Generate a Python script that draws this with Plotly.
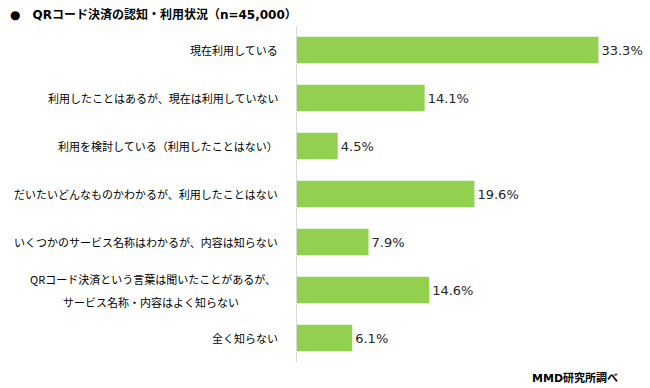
import plotly.graph_objects as go

categories = [
    "現在利用している",
    "利用したことはあるが、現在は利用していない",
    "利用を検討している（利用したことはない）",
    "だいたいどんなものかわかるが、利用したことはない",
    "いくつかのサービス名称はわかるが、内容は知らない",
    "QRコード決済という言葉は聞いたことがあるが、\nサービス名称・内容はよく知らない",
    "全く知らない",
]
values = [33.3, 14.1, 4.5, 19.6, 7.9, 14.6, 6.1]
value_labels = ["33.3%", "14.1%", "4.5%", "19.6%", "7.9%", "14.6%", "6.1%"]

JP = "Noto Sans CJK JP, sans-serif"
NUM = "DejaVu Sans, Noto Sans CJK JP, sans-serif"

fig = go.Figure(go.Bar(
    x=values, y=categories, orientation="h",
    marker=dict(color="#92d050", line=dict(width=0)),
    text=value_labels, textposition="outside",
    textfont=dict(family=NUM, size=13, color="#262626"),
    cliponaxis=False, width=0.55,
))

annotations = []
for c in categories:
    lines = c.split("\n")
    if len(lines) == 1:
        annotations.append(dict(
            x=0, xref="paper", y=c, yref="y", text=c, showarrow=False,
            xanchor="right", yanchor="middle", xshift=-17,
            font=dict(family=JP, size=11, color="#000000"),
        ))
    else:
        annotations.append(dict(
            x=0, xref="paper", y=c, yref="y", text=lines[0], showarrow=False,
            xanchor="right", yanchor="middle", xshift=-19, yshift=11,
            font=dict(family=JP, size=11, color="#000000"),
        ))
        annotations.append(dict(
            x=0, xref="paper", y=c, yref="y", text=lines[1], showarrow=False,
            xanchor="right", yanchor="middle", xshift=-56, yshift=-12,
            font=dict(family=JP, size=11, color="#000000"),
        ))

annotations += [
    dict(x=-297 / 344, xref="paper", y=1, yref="paper", yshift=2,
         xanchor="left", yanchor="bottom", showarrow=False, xshift=8,
         text="<b>●　QRコード決済の認知・利用状況（n=45,000）</b>",
         font=dict(family=NUM, size=12, color="#000000")),
    dict(x=1, xref="paper", y=0, yref="paper", yshift=-7,
         xanchor="right", yanchor="top", showarrow=False, xshift=-21,
         text="<b>MMD研究所調べ</b>",
         font=dict(family=NUM, size=11, color="#000000")),
]

fig.update_layout(
    width=650, height=388,
    margin=dict(l=297, r=9, t=26, b=26),
    paper_bgcolor="white", plot_bgcolor="white",
    showlegend=False,
    xaxis=dict(range=[0, 38], visible=False, fixedrange=True),
    yaxis=dict(autorange="reversed", showticklabels=False, showgrid=False,
               showline=True, linecolor="#d9d9d9", linewidth=1, ticks="",
               zeroline=False, fixedrange=True),
    annotations=annotations,
)

fig.write_html("out.html", config={"displayModeBar": False},
               post_script="document.body.style.margin='0px';")
